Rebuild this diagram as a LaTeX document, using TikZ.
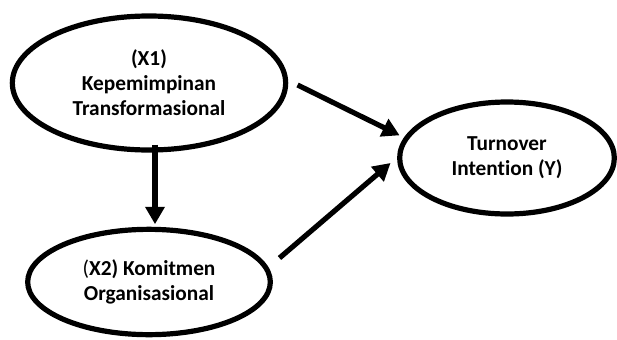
\documentclass[tikz,border=0pt]{standalone}
\usepackage{fontspec}
\setmainfont[Ligatures=NoCommon]{Carlito}
\usetikzlibrary{arrows.meta, shapes.geometric}

\begin{document}
\begin{tikzpicture}[
  x=0.75pt, y=-0.75pt,
  every node/.style={ellipse, draw, line width=3.9pt, inner sep=0pt, align=center,
    font=\bfseries\fontsize{16}{18.75}\selectfont},
  link/.style={line width=3.9pt, -{Triangle[length=13pt,width=14pt]}}
]
\useasboundingbox (0,0) rectangle (617,339);
\node[minimum width=205pt, minimum height=100.5pt] (x1) at (149,83) {(X1)\\Kepemimpinan\\Transformasional};
\node[minimum width=182pt, minimum height=79pt] (x2) at (149,282) {{\mdseries(}X2) Komitmen\\Organisasional};
\node[minimum width=161pt, minimum height=84pt] (y) at (507,158) {Turnover\\Intention (Y)};
\draw[link] ([xshift=4.5pt,yshift=6pt]x1.south) -- ([xshift=4.5pt,yshift=1.9pt]x2.north);
\draw[link] ([xshift=7pt,yshift=-1.5pt]x1.east) -- ([xshift=1.9pt,yshift=17pt]y.west);
\draw[link] ([xshift=4.9pt,yshift=18pt]x2.east) -- ([xshift=-4.9pt,yshift=-3.75pt]y.west);
\end{tikzpicture}
\end{document}
